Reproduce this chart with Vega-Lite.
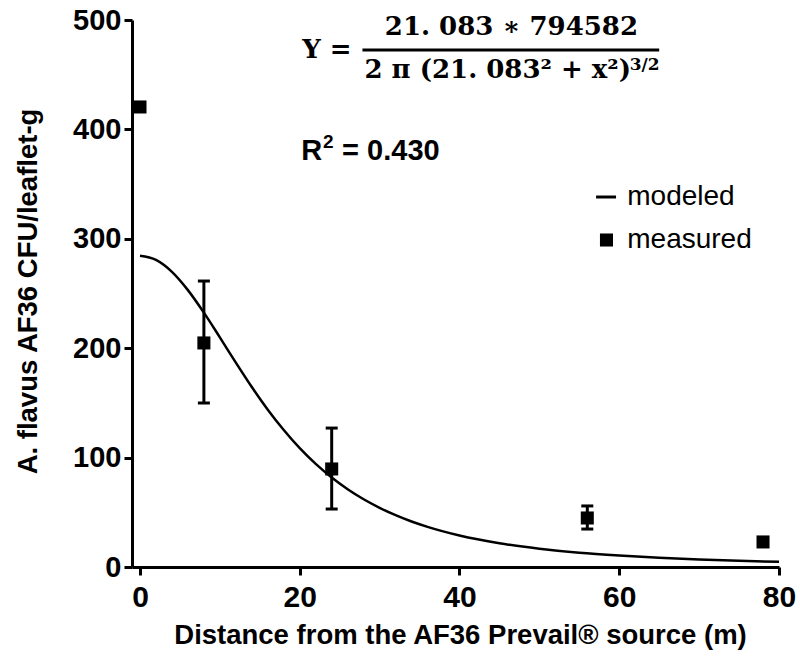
{
  "$schema": "https://vega.github.io/schema/vega-lite/v6.json",
  "width": 647,
  "height": 547,
  "autosize": {"type": "none"},
  "padding": {"left": 132, "top": 20, "right": 21, "bottom": 97},
  "background": "white",
  "config": {"view": {"stroke": null}, "font": "Liberation Sans"},
  "encoding": {
    "x": {
      "field": "x", "type": "quantitative",
      "scale": {"domain": [-1, 80], "nice": false, "zero": false},
      "axis": {
        "values": [0, 20, 40, 60, 80], "grid": false,
        "title": "Distance from the AF36 Prevail® source (m)",
        "titleFont": "Liberation Sans", "titleFontSize": 27.5, "titleFontWeight": "bold", "titleColor": "black",
        "titleX": 328, "titleY": 76, "titleAlign": "center", "titleBaseline": "alphabetic",
        "labelFont": "Liberation Sans", "labelFontSize": 30, "labelFontWeight": "bold", "labelColor": "black",
        "labelPadding": 7, "labelFlush": false,
        "tickSize": 8, "tickWidth": 3, "tickColor": "black",
        "domainColor": "black", "domainWidth": 3
      }
    },
    "y": {
      "field": "y", "type": "quantitative",
      "scale": {"domain": [0, 500], "nice": false},
      "axis": {
        "values": [0, 100, 200, 300, 400, 500], "grid": false,
        "title": "A. flavus AF36 CFU/leaflet-g",
        "titleFont": "Liberation Sans", "titleFontSize": 27.5, "titleFontWeight": "bold", "titleColor": "black",
        "titleX": -104, "titleY": 271, "titleAngle": 270, "titleAlign": "center", "titleBaseline": "middle",
        "labelFont": "Liberation Sans", "labelFontSize": 29, "labelFontWeight": "bold", "labelColor": "black",
        "labelPadding": 3, "labelFlush": false,
        "tickSize": 8, "tickWidth": 3, "tickColor": "black",
        "domainColor": "black", "domainWidth": 3
      }
    }
  },
  "layer": [
    {
      "data": {"values": [
        {"x": 0, "y": 284.5}, {"x": 2, "y": 280.7}, {"x": 4, "y": 269.8}, {"x": 6, "y": 253.1},
        {"x": 8, "y": 232.5}, {"x": 10, "y": 209.9}, {"x": 12, "y": 186.8}, {"x": 14, "y": 164.5},
        {"x": 16, "y": 143.8}, {"x": 18, "y": 125.2}, {"x": 20, "y": 108.6}, {"x": 22, "y": 94.2},
        {"x": 24, "y": 81.8}, {"x": 26, "y": 71.1}, {"x": 28, "y": 61.9}, {"x": 30, "y": 54.1},
        {"x": 32, "y": 47.4}, {"x": 34, "y": 41.6}, {"x": 36, "y": 36.7}, {"x": 40, "y": 28.8},
        {"x": 45, "y": 21.7}, {"x": 50, "y": 16.7}, {"x": 55, "y": 13.0}, {"x": 60, "y": 10.4},
        {"x": 65, "y": 8.36}, {"x": 70, "y": 6.82}, {"x": 75, "y": 5.64}, {"x": 80, "y": 4.71}
      ]},
      "mark": {"type": "line", "color": "black", "strokeWidth": 2.5, "interpolate": "monotone"}
    },
    {
      "data": {"name": "measured", "values": [
        {"x": 0, "y": 420.5},
        {"x": 8, "y": 204.8, "lo": 149.9, "hi": 261.4},
        {"x": 24, "y": 89.6, "lo": 53, "hi": 127},
        {"x": 56, "y": 44.8, "lo": 34.7, "hi": 55.8},
        {"x": 78, "y": 22.9}
      ]},
      "layer": [
        {
          "mark": {"type": "rule", "color": "black", "strokeWidth": 3},
          "encoding": {
            "y": {"field": "lo", "type": "quantitative", "title": "A. flavus AF36 CFU/leaflet-g"},
            "y2": {"field": "hi"}
          }
        },
        {
          "mark": {"type": "tick", "orient": "horizontal", "color": "black", "size": 12, "thickness": 3, "opacity": 1},
          "encoding": {"y": {"field": "lo", "type": "quantitative", "title": "A. flavus AF36 CFU/leaflet-g"}}
        },
        {
          "mark": {"type": "tick", "orient": "horizontal", "color": "black", "size": 12, "thickness": 3, "opacity": 1},
          "encoding": {"y": {"field": "hi", "type": "quantitative", "title": "A. flavus AF36 CFU/leaflet-g"}}
        },
        {
          "mark": {"type": "square", "color": "black", "size": 170, "opacity": 1}
        }
      ]
    },
    {
      "data": {"values": [{"x": 57.1, "x2": 59.6, "y": 338.2}]},
      "mark": {"type": "rule", "color": "black", "strokeWidth": 3},
      "encoding": {"x2": {"field": "x2"}}
    },
    {
      "data": {"values": [{"x": 58.4, "y": 298.9}]},
      "mark": {"type": "square", "color": "black", "size": 170, "opacity": 1}
    },
    {
      "data": {"values": [{"x": 61.0, "y": 338.2, "label": "modeled"}, {"x": 61.0, "y": 298.9, "label": "measured"}]},
      "mark": {"type": "text", "font": "Liberation Sans", "fontSize": 28, "align": "left", "baseline": "middle", "color": "black"},
      "encoding": {"text": {"field": "label"}}
    },
    {
      "data": {"values": [{"x": 20.2, "y": 372, "label": "R"}, {"x": 25.3, "y": 372, "label": "= 0.430"}]},
      "mark": {"type": "text", "font": "Liberation Sans", "fontSize": 29, "fontWeight": "bold", "align": "left", "baseline": "alphabetic", "color": "black"},
      "encoding": {"text": {"field": "label"}}
    },
    {
      "data": {"values": [{"x": 22.9, "y": 383, "label": "2"}]},
      "mark": {"type": "text", "font": "Liberation Sans", "fontSize": 19, "fontWeight": "bold", "align": "left", "baseline": "alphabetic", "color": "black"},
      "encoding": {"text": {"field": "label"}}
    },
    {
      "data": {"values": [
        {"x": 20.3, "y": 465.3, "label": "Y ="},
        {"x": 28.1, "y": 447, "label": "2 π (21. 083² + x²)"}
      ]},
      "mark": {"type": "text", "font": "DejaVu Serif", "fontSize": 26, "fontWeight": "bold", "align": "left", "baseline": "alphabetic", "color": "black"},
      "encoding": {"text": {"field": "label"}}
    },
    {
      "data": {"values": [{"x": 46.5, "y": 486.3, "label": "21. 083 ∗ 794582"}]},
      "mark": {"type": "text", "font": "DejaVu Serif", "fontSize": 26, "fontWeight": "bold", "align": "center", "baseline": "alphabetic", "color": "black"},
      "encoding": {"text": {"field": "label"}}
    },
    {
      "data": {"values": [{"x": 61.3, "y": 454.3, "label": "3/2"}]},
      "mark": {"type": "text", "font": "DejaVu Serif", "fontSize": 17, "fontWeight": "bold", "align": "left", "baseline": "alphabetic", "color": "black"},
      "encoding": {"text": {"field": "label"}}
    },
    {
      "data": {"values": [{"x": 27.85, "x2": 65.0, "y": 472.6}]},
      "mark": {"type": "rule", "color": "black", "strokeWidth": 3},
      "encoding": {"x2": {"field": "x2"}}
    }
  ]
}
